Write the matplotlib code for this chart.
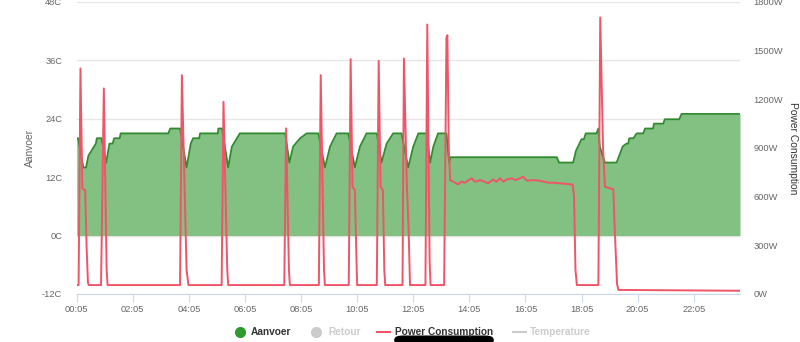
import matplotlib.pyplot as plt
from matplotlib.lines import Line2D
from matplotlib.patches import FancyBboxPatch

##### Data #########################
# Aanvoer (supply temperature, C) - left axis
aanvoer_times = ['00:05', '00:08', '00:19', '00:25', '00:30', '00:46', '00:48', '00:58',
                 '01:08', '01:15', '01:22', '01:25', '01:37', '01:39', '03:21', '03:25',
                 '03:46', '04:00', '04:09', '04:14', '04:27', '04:29', '05:07', '05:08',
                 '05:16', '05:29', '05:37', '05:54', '07:31', '07:40', '07:48', '08:03',
                 '08:17', '08:42', '08:56', '09:07', '09:21', '09:46', '10:00', '10:11',
                 '10:25', '10:47', '10:57', '11:08', '11:22', '11:40', '11:54', '12:05',
                 '12:16', '12:34', '12:41', '12:48', '12:58', '13:16', '13:22', '13:25',
                 '17:12', '17:17', '17:47', '17:53', '18:05', '18:10', '18:14', '18:37',
                 '18:41', '18:44', '18:55', '19:20', '19:33', '19:41', '19:45', '19:47',
                 '19:56', '20:03', '20:17', '20:21', '20:38', '20:40', '21:00', '21:03',
                 '21:34', '21:39', '23:44']
aanvoer_temp = [20.0, 20.0, 14.0, 14.0, 16.4, 18.9, 20.0, 20.0,
                15.0, 18.9, 18.9, 20.0, 20.0, 21.0, 21.0, 22.0,
                22.0, 14.0, 18.9, 20.0, 20.0, 21.0, 21.0, 22.0,
                22.0, 14.0, 18.3, 21.0, 21.0, 15.0, 18.3, 20.0,
                21.0, 21.0, 14.0, 18.3, 21.0, 21.0, 14.0, 18.3,
                21.0, 21.0, 15.0, 18.9, 21.0, 21.0, 14.0, 18.3,
                21.0, 21.0, 15.0, 18.3, 21.0, 21.0, 15.0, 16.1,
                16.1, 15.0, 15.0, 17.4, 19.8, 19.8, 21.0, 21.0,
                22.0, 18.3, 15.0, 15.0, 18.3, 18.9, 18.9, 20.0,
                20.0, 21.0, 21.0, 22.0, 22.0, 23.0, 23.0, 23.9,
                23.9, 25.0, 25.0]

# Power Consumption (W) - right axis
power_times = ['00:05', '00:09', '00:13', '00:17', '00:23', '00:26', '00:29', '00:31',
               '00:57', '01:03', '01:09', '01:11',
               '03:46', '03:50', '04:00', '04:04',
               '05:15', '05:19', '05:27', '05:29',
               '07:29', '07:33', '07:39', '07:41',
               '08:43', '08:47', '08:54', '08:56',
               '09:47', '09:51', '09:55', '10:00', '10:04', '10:05',
               '10:47', '10:51', '10:55', '11:00', '11:03', '11:05',
               '11:42', '11:45', '11:51', '11:55', '11:58',
               '12:31', '12:35', '12:40', '12:42',
               '13:11', '13:16', '13:18', '13:21', '13:24',
               '13:41', '13:48', '13:56', '14:03', '14:10', '14:17', '14:28', '14:38',
               '14:45', '14:56', '15:03', '15:11', '15:18', '15:25', '15:36', '15:43',
               '15:53', '16:00', '16:08', '16:22', '16:36', '16:54', '17:05', '17:19',
               '17:33', '17:46', '17:49', '17:52', '17:55',
               '18:41', '18:45', '18:51', '18:55', '19:13', '19:16', '19:21', '19:24',
               '23:44']
power_watt = [55, 55, 1390, 650, 640, 300, 70, 55,
              55, 1267, 150, 55,
              55, 1349, 150, 55,
              55, 1185, 150, 55,
              55, 1021, 150, 55,
              55, 1349, 150, 55,
              55, 1448, 660, 640, 150, 55,
              55, 1437, 660, 640, 150, 55,
              55, 1452, 700, 400, 55,
              55, 1661, 200, 55,
              55, 1580, 1595, 900, 702,
              676, 692, 686, 702, 713, 692, 702, 692,
              682, 706, 692, 713, 692, 706, 713, 702,
              713, 723, 698, 702, 698, 686, 686, 682,
              678, 675, 600, 150, 55,
              55, 1704, 900, 661, 645, 400, 60, 25,
              20]

tick_labels = ['00:05', '02:05', '04:05', '06:05', '08:05', '10:05',
               '12:05', '14:05', '16:05', '18:05', '20:05', '22:05']
temp_ticks = [-12, 0, 12, 24, 36, 48]
power_ticks = [0, 300, 600, 900, 1200, 1500, 1800]


def to_min(t):
    h, m = t.split(':')
    return int(h) * 60 + int(m)


x_temp = [to_min(t) for t in aanvoer_times]
x_power = [to_min(t) for t in power_times]
x_ticks = [to_min(t) for t in tick_labels]

plt.rcParams['font.family'] = ['Liberation Sans', 'DejaVu Sans']

fig = plt.figure(figsize=(8, 3.42), dpi=100)
ax = fig.add_axes([0.0959, 0.1404, 0.8291, 0.8538])
ax2 = ax.twinx()

# green area for Aanvoer
ax.fill_between(x_temp, 0, aanvoer_temp, color='#82c182', lw=0, zorder=2)
ax.plot(x_temp, aanvoer_temp, color='#2e8b2e', lw=1.3, zorder=3)

# red line for power
ax2.plot(x_power, power_watt, color='#ef5468', lw=1.4, zorder=3)

ax.set_xlim(5, 1424)
ax.set_ylim(-12, 48)
ax2.set_ylim(0, 1800)

ax.set_yticks(temp_ticks)
ax.set_yticklabels(['%dC' % v for v in temp_ticks])
ax2.set_yticks(power_ticks)
ax2.set_yticklabels(['%dW' % v for v in power_ticks])
ax.set_xticks(x_ticks)
ax.set_xticklabels(tick_labels)

ax.grid(axis='y', color='#e6e6e6', lw=1, zorder=0)
ax.set_axisbelow(True)

for a in (ax, ax2):
    for s in ('left', 'right', 'top'):
        a.spines[s].set_visible(False)
ax2.spines['bottom'].set_visible(False)
ax.spines['bottom'].set_color('#ccd6eb')

ax.tick_params(axis='y', length=0, labelsize=6.7, labelcolor='#666666', pad=10.5)
ax2.tick_params(axis='y', length=0, labelsize=6.7, labelcolor='#666666', pad=9.5)
ax.tick_params(axis='x', length=6, color='#ccd6eb', labelsize=6.7,
               labelcolor='#666666', pad=2)

# axis titles
fig.text(30 / 800, 1 - 148 / 342, 'Aanvoer', fontsize=7.4, color='#666666',
         rotation=90, ha='center', va='center')
fig.text(793 / 800, 1 - 148 / 342, 'Power Consumption', fontsize=7.4,
         color='#333333', rotation=270, ha='center', va='center')

# legend drawn by hand along the bottom
ly = 1 - 332 / 342
fig.add_artist(Line2D([239.5 / 800], [ly], marker='o', ms=7, color='#2e9a2e',
                      ls='none', transform=fig.transFigure))
fig.text(251 / 800, ly, 'Aanvoer', fontsize=7.3, weight='bold', color='#333333',
         va='center')
fig.add_artist(Line2D([316 / 800], [ly], marker='o', ms=7, color='#cccccc',
                      ls='none', transform=fig.transFigure))
fig.text(328 / 800, ly, 'Retour', fontsize=7.3, weight='bold', color='#cccccc',
         va='center')
fig.add_artist(Line2D([377 / 800, 390 / 800], [ly, ly], color='#ef5468', lw=1.5,
                      transform=fig.transFigure))
fig.text(395 / 800, ly, 'Power Consumption', fontsize=7.3, weight='bold',
         color='#333333', va='center')
fig.add_artist(Line2D([513 / 800, 526 / 800], [ly, ly], color='#cccccc', lw=1.5,
                      transform=fig.transFigure))
fig.text(530 / 800, ly, 'Temperature', fontsize=7.3, weight='bold', color='#cccccc',
         va='center')

# dark bar under the legend (screenshot artefact)
fig.add_artist(FancyBboxPatch((395 / 800, -0.02), 98 / 800, 0.037,
                              boxstyle='round,pad=0,rounding_size=0.01',
                              color='black', transform=fig.transFigure))

fig.savefig('out.png', dpi=100)
